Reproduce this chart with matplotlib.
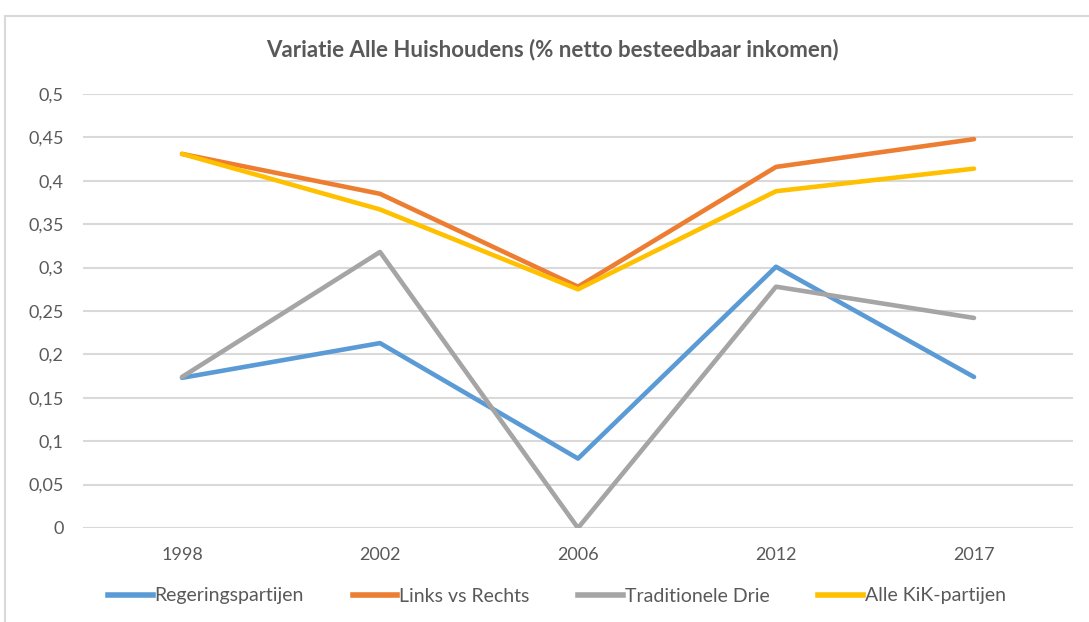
import matplotlib
matplotlib.use("Agg")
import matplotlib.pyplot as plt
from matplotlib.lines import Line2D

plt.rcParams['font.family'] = ['Lato', 'DejaVu Sans']

years = ["1998", "2002", "2006", "2012", "2017"]
regering = [0.173, 0.213, 0.080, 0.301, 0.174]
links_rechts = [0.431, 0.385, 0.278, 0.416, 0.448]
trad_drie = [0.174, 0.318, 0.000, 0.278, 0.242]
alle_kik = [0.431, 0.367, 0.275, 0.388, 0.414]
yticks = [0, 0.05, 0.1, 0.15, 0.2, 0.25, 0.3, 0.35, 0.4, 0.45, 0.5]
ylabels = ["0", "0,05", "0,1", "0,15", "0,2", "0,25", "0,3", "0,35", "0,4", "0,45", "0,5"]

series = [
    ("Regeringspartijen", regering, "#5b9bd5"),
    ("Links vs Rechts", links_rechts, "#ed7d31"),
    ("Traditionele Drie", trad_drie, "#a5a5a5"),
    ("Alle KiK-partijen", alle_kik, "#ffc000"),
]

fig = plt.figure(figsize=(10.89, 6.22), dpi=100)
ax = fig.add_axes([83/1089, 1 - 528/622, (1073 - 83)/1089, (528 - 94)/622])

x = list(range(len(years)))
for name, vals, col in series:
    ax.plot(x, vals, color=col, linewidth=3.3, label=name, solid_joinstyle='round', solid_capstyle='round')

ax.set_xlim(-0.5, len(years) - 0.5)
ax.set_ylim(0, 0.5)
ax.set_yticks(yticks)
ax.set_yticklabels(ylabels)
ax.set_xticks(x)
ax.set_xticklabels(years)
ax.grid(axis='y', color='#d9d9d9', linewidth=1.5)
ax.set_axisbelow(True)
for s in ax.spines.values():
    s.set_visible(False)
ax.tick_params(axis='both', length=0, labelsize=13, colors='#595959')
ax.tick_params(axis='y', pad=14)
ax.tick_params(axis='x', pad=14)

fig.text(552/1089, 1 - 50/622, "Variatie Alle Huishoudens (% netto besteedbaar inkomen)",
         ha='center', va='center', fontsize=16, fontweight='bold', color='#595959')

handles = [Line2D([0], [0], color=c, linewidth=4) for _, _, c in series]
fig.legend(handles, [n for n, _, _ in series], loc='center', bbox_to_anchor=(557/1089, 1 - 596/622),
           ncol=4, frameon=False, fontsize=14, labelcolor='#595959', handlelength=2.3,
           handletextpad=0.1, columnspacing=2.5)

# chart border
fig.add_artist(Line2D([5/1089, 1], [1 - 16/622, 1 - 16/622], color='#d9d9d9', linewidth=1.5, transform=fig.transFigure))
fig.add_artist(Line2D([5/1089, 5/1089], [0, 1 - 16/622], color='#d9d9d9', linewidth=1.5, transform=fig.transFigure))

fig.savefig("out.png", dpi=100)
